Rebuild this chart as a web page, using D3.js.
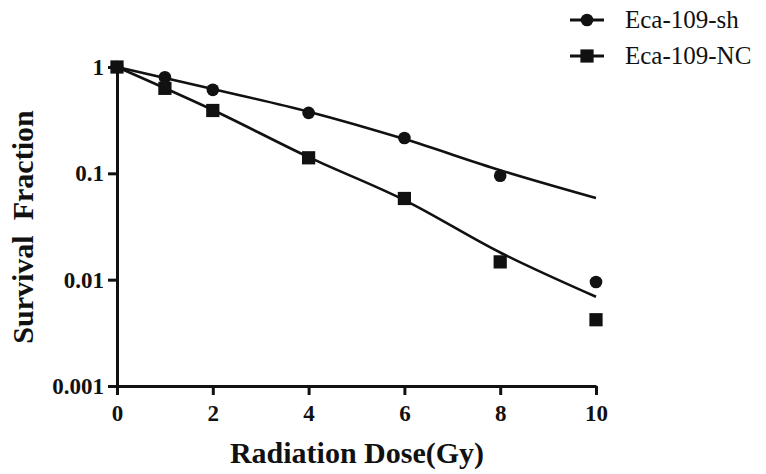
<!DOCTYPE html>
<html>
<head>
<meta charset="utf-8">
<script src="https://cdn.jsdelivr.net/npm/d3@7"></script>
<style>
  body { margin: 0; background: #fff; }
  text { font-family: "Liberation Serif", "Times New Roman", serif; fill: #111; }
</style>
</head>
<body>
<svg id="chart" width="766" height="474"></svg>
<script>
// data
const doses = [0, 1, 2, 4, 6, 8, 10];
const shValues = [1.0, 0.80, 0.61, 0.37, 0.215, 0.095, 0.0095];
const ncValues = [1.0, 0.63, 0.39, 0.14, 0.058, 0.0147, 0.0042];

// fitted curves, read at a few doses
const fitDoses = [0, 2, 4, 6, 8, 10];
const shFit = [1.0, 0.62, 0.38, 0.21, 0.107, 0.0586];
const ncFit = [1.0, 0.394, 0.142, 0.056, 0.018, 0.0069];

const xTicks = [0, 2, 4, 6, 8, 10];
const yTicks = [1, 0.1, 0.01, 0.001];
const seriesNames = ['Eca-109-sh', 'Eca-109-NC'];

const svg = d3.select('#chart');

const x = d3.scaleLinear()
  .domain([0, 10])
  .range([117, 596]);

const y = d3.scaleLog()
  .domain([0.001, 1])
  .range([386, 67]);

const xAxis = d3.axisBottom(x)
  .tickValues(xTicks)
  .tickSizeInner(9)
  .tickSizeOuter(0)
  .tickPadding(10)
  .tickFormat(d3.format('d'));

const yAxis = d3.axisLeft(y)
  .tickValues(yTicks)
  .tickSizeInner(9)
  .tickSizeOuter(0)
  .tickPadding(4)
  .tickFormat(d => String(d));

function styleAxis(g) {
  g.select('.domain').attr('stroke', '#111').attr('stroke-width', 3);
  g.selectAll('.tick line').attr('stroke', '#111').attr('stroke-width', 3);
  g.selectAll('.tick text')
    .attr('fill', '#111')
    .style('font-family', '"Liberation Serif", serif')
    .style('font-weight', 'bold')
    .style('font-size', '23px');
}

svg.append('g')
  .attr('transform', 'translate(0,' + 386 + ')')
  .call(xAxis)
  .call(styleAxis);

svg.append('g')
  .attr('transform', 'translate(' + 117 + ',0)')
  .call(yAxis)
  .call(styleAxis);

// fitted curves
const line = d3.line()
  .x(d => x(d[0]))
  .y(d => y(d[1]))
  .curve(d3.curveMonotoneX);

[shFit, ncFit].forEach(vals => {
  svg.append('path')
    .datum(fitDoses.map((d, i) => [d, vals[i]]))
    .attr('fill', 'none')
    .attr('stroke', '#111')
    .attr('stroke-width', 2.6)
    .attr('d', line);
});

// markers
const circle = d3.symbol().type(d3.symbolCircle).size(125);
const square = d3.symbol().type(d3.symbolSquare).size(175);

svg.append('g').selectAll('path')
  .data(doses.map((d, i) => [d, shValues[i]]))
  .enter().append('path')
  .attr('d', circle)
  .attr('fill', '#111')
  .attr('transform', d => 'translate(' + x(d[0]) + ',' + y(d[1]) + ')');

svg.append('g').selectAll('path')
  .data(doses.map((d, i) => [d, ncValues[i]]))
  .enter().append('path')
  .attr('d', square)
  .attr('fill', '#111')
  .attr('transform', d => 'translate(' + x(d[0]) + ',' + y(d[1]) + ')');

// axis titles
svg.append('text')
  .attr('x', 357)
  .attr('y', 463)
  .attr('text-anchor', 'middle')
  .style('font-weight', 'bold')
  .style('font-size', '30px')
  .text('Radiation Dose(Gy)');

svg.append('text')
  .attr('transform', 'translate(33,227) rotate(-90)')
  .attr('text-anchor', 'middle')
  .style('font-weight', 'bold')
  .style('font-size', '30px')
  .style('white-space', 'pre')
  .attr('xml:space', 'preserve')
  .text('Survival  Fraction');

// legend
const legend = svg.append('g');
const legendShapes = [circle, square];
seriesNames.forEach((name, i) => {
  const ly = 20 + i * 36;
  legend.append('line')
    .attr('x1', 570).attr('x2', 604)
    .attr('y1', ly).attr('y2', ly)
    .attr('stroke', '#111').attr('stroke-width', 3);
  legend.append('path')
    .attr('d', legendShapes[i])
    .attr('fill', '#111')
    .attr('transform', 'translate(587,' + ly + ')');
  legend.append('text')
    .attr('x', 625)
    .attr('y', ly + 8)
    .style('font-size', '25px')
    .text(name);
});
</script>
</body>
</html>
